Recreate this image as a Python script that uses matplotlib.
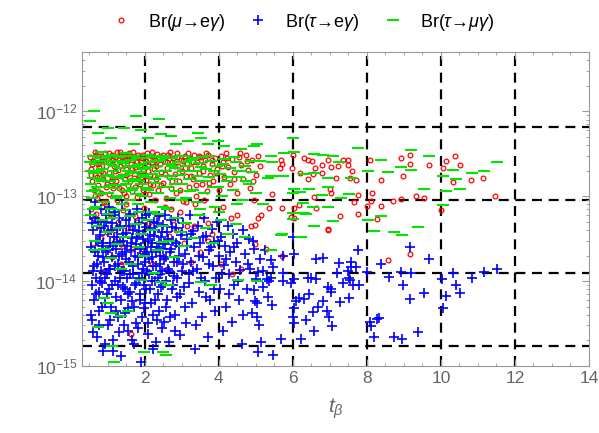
import numpy as np
import matplotlib
matplotlib.use("Agg")
import matplotlib.pyplot as plt
from matplotlib.ticker import MultipleLocator, FixedLocator, LogLocator, NullFormatter

plt.rcParams['font.family'] = ['Liberation Sans', 'DejaVu Sans']
plt.rcParams['mathtext.fontset'] = 'custom'
plt.rcParams['mathtext.rm'] = 'Liberation Sans'
plt.rcParams['mathtext.it'] = 'Liberation Sans:italic'

# (t_beta, Br * 1e15)
mu_e = [
    (0.52, 290), (0.55, 210), (0.57, 150), (0.60, 260), (0.62, 120), (0.65, 330), (0.66, 180), (0.70, 95),
    (0.72, 240), (0.74, 135), (0.78, 300), (0.80, 200), (0.82, 110), (0.85, 265), (0.87, 160), (0.90, 85),
    (0.92, 320), (0.95, 225), (0.97, 140), (1.00, 280), (1.02, 190), (1.04, 105), (1.07, 250), (1.10, 310),
    (1.12, 170), (1.15, 125), (1.17, 230), (1.20, 290), (1.22, 150), (1.25, 90), (1.27, 205), (1.30, 270),
    (1.33, 335), (1.35, 175), (1.38, 118), (1.40, 245), (1.43, 300), (1.45, 160), (1.48, 210), (1.50, 100),
    (1.53, 275), (1.55, 135), (1.58, 320), (1.60, 190), (1.63, 240), (1.66, 115), (1.68, 290), (1.70, 165),
    (1.73, 220), (1.76, 260), (1.78, 98), (1.80, 310), (1.83, 180), (1.86, 140), (1.88, 235), (1.91, 285),
    (1.94, 120), (1.96, 200), (1.99, 265), (2.02, 155), (2.05, 325), (2.07, 230), (2.10, 105), (2.13, 180),
    (2.16, 295), (2.18, 250), (2.21, 135), (2.24, 210),
    (0.55, 70), (0.62, 55), (0.75, 45), (0.85, 75), (0.98, 38), (1.05, 62), (1.20, 30), (1.28, 50),
    (1.42, 68), (1.55, 42), (1.65, 24), (1.72, 58), (1.85, 35), (1.98, 72), (2.10, 48), (0.60, 28),
    (1.10, 19), (1.35, 16), (0.90, 13), (1.62, 2.4), (2.20, 16), (2.45, 19), (2.60, 14),
    (2.27, 270), (2.30, 160), (2.33, 315), (2.36, 120), (2.40, 240), (2.43, 195), (2.46, 290), (2.50, 145),
    (2.53, 260), (2.56, 95), (2.60, 215), (2.63, 305), (2.66, 170), (2.70, 125), (2.73, 250), (2.76, 280),
    (2.80, 185), (2.83, 110), (2.86, 320), (2.90, 230), (2.93, 150), (2.97, 270), (3.00, 200), (3.04, 88),
    (3.07, 300), (3.10, 175), (3.14, 245), (3.18, 130), (3.22, 285), (3.25, 215), (3.29, 160), (3.33, 310),
    (3.37, 100), (3.41, 255), (3.45, 190), (3.50, 290), (3.54, 140), (3.58, 225), (3.62, 270), (3.67, 115),
    (3.71, 305), (3.76, 180), (3.80, 240), (3.85, 150), (3.90, 285), (3.95, 210), (4.00, 120),
    (2.35, 60), (2.55, 75), (2.75, 52), (2.95, 65), (3.15, 44), (3.35, 80), (3.55, 58), (3.80, 36),
    (3.95, 70), (2.65, 34), (3.05, 28), (3.50, 22), (4.05, 16), (4.35, 12), (4.60, 14),
    (3.32, 45), (3.70, 48), (4.86, 45), (5.05, 56), (4.32, 56),
    (4.05, 300), (4.10, 250), (4.15, 170), (4.20, 320), (4.25, 220), (4.30, 140), (4.36, 275), (4.42, 195),
    (4.48, 110), (4.55, 290), (4.60, 235), (4.65, 160), (4.72, 310), (4.78, 205), (4.84, 125), (4.90, 265),
    (4.95, 90), (5.00, 180), (5.05, 300), (5.10, 230), (5.15, 60),
    (0.53, 180), (0.58, 240), (0.64, 100), (0.68, 310), (0.71, 170), (0.76, 220), (0.83, 290), (0.88, 190),
    (0.94, 130), (0.99, 250), (1.03, 320), (1.08, 150), (1.13, 270), (1.19, 200), (1.24, 330), (1.29, 125),
    (1.34, 230), (1.39, 290), (1.44, 110), (1.49, 180), (1.54, 300), (1.59, 150), (1.64, 210), (1.69, 330),
    (1.74, 130), (1.79, 250), (1.84, 290), (1.89, 170), (1.95, 310), (2.00, 105), (2.04, 260), (2.09, 200),
    (2.14, 140), (2.19, 330), (2.25, 175), (2.31, 230), (2.37, 290), (2.44, 135), (2.49, 310), (2.55, 185),
    (2.61, 250), (2.68, 330), (2.74, 150), (2.81, 230), (2.88, 290), (2.95, 120), (3.02, 260), (3.09, 215),
    (3.16, 320), (3.24, 175), (3.31, 250), (3.39, 135), (3.47, 300), (3.56, 200), (3.64, 320), (3.73, 145),
    (3.82, 270), (3.92, 190), (4.08, 230), (4.22, 280), (4.40, 160), (4.58, 320), (4.75, 260), (4.93, 150),
    (0.68, 62), (0.95, 85), (1.18, 40), (1.48, 80), (1.78, 50), (2.28, 90), (2.70, 70), (3.10, 85),
    (3.60, 90), (4.10, 75), (4.50, 60), (0.80, 32), (1.40, 26), (2.00, 22), (2.85, 40), (3.25, 17), (3.70, 30),
    (5.68, 270), (5.70, 240), (5.65, 215), (5.43, 106), (5.35, 73), (5.70, 73), (6.00, 305), (5.97, 215),
    (6.19, 190), (6.30, 282), (6.41, 265), (6.51, 260), (6.59, 215), (6.78, 235), (6.78, 190), (6.95, 265),
    (7.03, 220), (7.00, 122), (7.03, 110), (6.41, 160), (6.54, 182), (6.62, 72), (6.57, 99), (7.16, 164),
    (7.22, 227), (7.35, 265), (7.49, 270), (7.54, 164), (7.59, 199), (7.49, 234), (7.65, 86), (7.76, 104),
    (7.70, 156), (7.27, 59), (6.95, 41), (7.76, 61), (6.16, 79), (6.03, 73), (6.03, 56), (5.95, 57),
    (8.00, 77), (8.11, 88), (8.14, 110), (8.38, 156), (8.38, 77), (8.27, 54), (8.08, 270), (8.70, 88),
    (8.92, 93), (8.97, 174), (8.92, 282), (9.16, 305), (9.16, 240), (9.32, 101), (9.54, 96), (9.68, 234),
    (10.00, 69), (10.05, 215), (10.14, 260), (10.38, 298), (10.51, 234), (10.32, 147), (10.81, 156),
    (11.14, 164), (11.46, 101),
    (4.97, 46), (6.95, 40), (5.27, 24), (4.97, 27), (5.70, 20), (8.57, 17.5), (9.16, 21),
]

tau_e = [
    (0.52, 60), (0.55, 25), (0.57, 9), (0.58, 3.5), (0.60, 40), (0.62, 15), (0.63, 6), (0.65, 85),
    (0.67, 30), (0.68, 11), (0.70, 2.2), (0.72, 50), (0.74, 20), (0.75, 7.5), (0.77, 4.5), (0.79, 35),
    (0.80, 13), (0.82, 70), (0.84, 26), (0.85, 9.5), (0.87, 1.5), (0.89, 45), (0.90, 17), (0.92, 5.5),
    (0.94, 60), (0.95, 22), (0.97, 12), (0.99, 3), (1.01, 38), (1.02, 8), (1.04, 75), (1.06, 28),
    (1.07, 14), (1.09, 5), (1.11, 48), (1.12, 19), (1.14, 2), (1.16, 33), (1.18, 10), (1.19, 65),
    (1.21, 24), (1.23, 6.5), (1.25, 42), (1.27, 16), (1.28, 3.8), (1.30, 55), (1.32, 11), (1.34, 29),
    (1.35, 1.3), (1.37, 80), (1.39, 21), (1.41, 8.5), (1.42, 36), (1.44, 13), (1.46, 4.2), (1.48, 52),
    (1.50, 18), (1.52, 26), (1.53, 7), (1.55, 2.6), (1.57, 44), (1.59, 12), (1.61, 62), (1.63, 23),
    (1.64, 5.8), (1.66, 32), (1.68, 15), (1.70, 1.8), (1.72, 47), (1.73, 9), (1.75, 27), (1.77, 3.2),
    (1.79, 70), (1.81, 19), (1.83, 11), (1.85, 39), (1.86, 6), (1.88, 24), (1.90, 1.1), (1.92, 55),
    (1.94, 14), (1.96, 31), (1.98, 4.8), (2.00, 17), (2.02, 43), (2.04, 8), (2.06, 22), (2.08, 2.4),
    (2.10, 63), (2.12, 12), (2.14, 35), (2.16, 5.5), (2.18, 19), (2.20, 28), (2.22, 1.6), (2.24, 50),
    (2.26, 10), (2.28, 40), (2.30, 15), (2.32, 3.5), (2.34, 25), (2.36, 7), (2.38, 58), (2.40, 20),
    (2.42, 12), (2.44, 33), (2.46, 2.8), (2.48, 46), (2.50, 9), (2.52, 18), (2.55, 27), (2.57, 5),
    (2.60, 38), (2.62, 14), (2.65, 1.9), (2.67, 22), (2.70, 52), (2.72, 8), (2.75, 30), (2.78, 11.5),
    (2.80, 4), (2.83, 42), (2.86, 17), (2.88, 6.5), (2.91, 26), (2.94, 2.3), (2.97, 35), (3.00, 13),
    (3.03, 48), (3.06, 8.5), (3.09, 21), (3.12, 3.2), (3.15, 31), (3.18, 12), (3.21, 60), (3.24, 17),
    (3.27, 5.5), (3.30, 39), (3.33, 25), (3.36, 1.6), (3.40, 14), (3.43, 44), (3.46, 7.5), (3.50, 28),
    (3.53, 3.8), (3.56, 19), (3.60, 55), (3.63, 10), (3.66, 34), (3.70, 2.2), (3.73, 23), (3.76, 6),
    (3.80, 41), (3.83, 15), (3.86, 29), (3.90, 4.5), (3.93, 11), (3.96, 50), (4.00, 20), (4.03, 8),
    (4.06, 33), (4.10, 2.6), (4.13, 15.5), (4.16, 26), (4.20, 5), (4.24, 44), (4.27, 12), (4.30, 22),
    (4.34, 3.3), (4.38, 36), (4.42, 9), (4.46, 17), (4.50, 28), (4.54, 6), (4.58, 13.5), (4.62, 1.8),
    (4.66, 40), (4.70, 21), (4.75, 8), (4.80, 31), (4.85, 14), (4.90, 4.2), (4.95, 24), (5.00, 10.5),
    (0.54, 4), (0.56, 48), (0.59, 13), (0.61, 2.5), (0.64, 22), (0.66, 55), (0.69, 7), (0.71, 16),
    (0.73, 30), (0.76, 3), (0.78, 10), (0.81, 42), (0.83, 5), (0.86, 19), (0.88, 28), (0.91, 1.8),
    (0.93, 11), (0.96, 50), (0.98, 7), (1.00, 23), (1.03, 14), (1.05, 3.5), (1.08, 40), (1.10, 9),
    (1.13, 26), (1.15, 1.5), (1.17, 60), (1.20, 15), (1.22, 4.5), (1.24, 33), (1.26, 9), (1.29, 20),
    (1.31, 2.5), (1.33, 45), (1.36, 6), (1.38, 13), (1.40, 30), (1.43, 3), (1.45, 22), (1.47, 8),
    (1.49, 37), (1.51, 11), (1.54, 4.8), (1.56, 17), (1.58, 58), (1.60, 7.5), (1.62, 28), (1.65, 2),
    (1.67, 12), (1.69, 40), (1.71, 5), (1.74, 20), (1.76, 9.5), (1.78, 33), (1.80, 2.8), (1.82, 16),
    (1.84, 48), (1.87, 7), (1.89, 25), (1.91, 12.5), (1.93, 3.8), (1.95, 36), (1.97, 9), (1.99, 21),
    (2.01, 5.5), (2.03, 60), (2.05, 13), (2.07, 30), (2.09, 3.2), (2.11, 18), (2.13, 8), (2.15, 42),
    (2.17, 25), (2.19, 10), (2.21, 4), (2.23, 15), (2.25, 34), (2.27, 6), (2.29, 22), (2.31, 1.9),
    (2.33, 48), (2.35, 11), (2.37, 28), (2.39, 4.5), (2.41, 16), (2.43, 8.5), (2.45, 38), (2.47, 13),
    (2.49, 24), (2.51, 3.3), (2.54, 60), (2.56, 10), (2.58, 19), (2.61, 6), (2.63, 31), (2.66, 13),
    (2.68, 3.8), (2.71, 24), (2.73, 43), (2.76, 9), (2.79, 17), (2.82, 2.6), (2.84, 28), (2.87, 11),
    (2.90, 55), (2.92, 20), (2.96, 7), (2.99, 38), (3.02, 16), (3.08, 5), (3.13, 26), (3.19, 9.5),
    (3.25, 36), (3.31, 13), (3.38, 3), (3.45, 20), (3.52, 11), (3.58, 33), (3.65, 6.5), (3.72, 16),
    (3.79, 25), (3.88, 8), (3.98, 30), (4.08, 12), (4.18, 18), (4.28, 7), (4.40, 25), (4.52, 10),
    (4.64, 4), (4.78, 16), (4.92, 30),
    (6.00, 33), (6.03, 21), (5.73, 19.5), (5.41, 17.5), (5.46, 14.5), (5.41, 11), (5.30, 10.6), (5.35, 10),
    (5.73, 12.5), (5.73, 10), (5.95, 9.4), (6.03, 10.6), (5.43, 5.3), (5.03, 3.75), (4.97, 5.8), (5.03, 5.5),
    (4.95, 7.8), (5.05, 12.7), (5.19, 13.3), (6.22, 2.1), (5.68, 2.1), (6.00, 3.75), (6.03, 3.2), (6.08, 5.9),
    (6.16, 6.4), (6.30, 6.1), (6.43, 7.0), (6.03, 4.8), (6.35, 3.5), (6.54, 4.3), (6.57, 2.6), (6.68, 5.0),
    (6.81, 5.9), (6.92, 4.5), (6.97, 3.75), (7.05, 2.95), (6.95, 8.6), (7.03, 8.0), (7.03, 7.4), (6.62, 18),
    (6.81, 18.5), (7.24, 16.5), (7.57, 17), (7.76, 23.5), (7.70, 14.5), (7.57, 14.5), (7.49, 13), (7.51, 10.8),
    (7.54, 10.2), (7.35, 9.4), (7.62, 9.1), (7.78, 9.1), (7.19, 12.3), (7.27, 5.6), (7.51, 6.4), (6.49, 10.8),
    (6.62, 10.6), (6.41, 11), (8.00, 12.7), (8.38, 15.7), (8.59, 11.3), (8.97, 8.9), (8.92, 12.7), (9.19, 12.3),
    (9.16, 25), (9.68, 18), (9.16, 6.1), (9.54, 7.2), (10.03, 10.6), (10.14, 6.6), (10.05, 4.8), (10.32, 12.3),
    (10.41, 9.1), (10.51, 7.2), (10.84, 11), (11.16, 12.7), (11.51, 14), (8.32, 3.7), (8.27, 3.6), (8.08, 3.3),
    (8.11, 2.95), (8.19, 2.2), (8.73, 2.2), (8.95, 2.1), (9.38, 2.5), (5.05, 1.46), (5.46, 1.35),
    (5.10, 18), (5.20, 8.5), (5.25, 23), (5.08, 3), (5.32, 6.5), (5.15, 1.9),
]

tau_mu = [
    (0.62, 1000), (0.51, 765), (1.76, 870), (2.38, 815), (1.00, 640), (1.43, 640), (0.73, 550), (0.78, 420),
    (1.08, 480), (1.89, 610), (2.08, 490), (2.43, 540), (2.70, 510), (2.84, 410), (1.70, 410), (3.43, 550),
    (3.51, 490), (3.97, 446), (4.14, 390), (3.70, 410), (3.16, 446), (4.59, 360), (4.95, 390), (5.03, 410),
    (6.00, 490), (5.76, 320), (6.03, 330),
    (0.52, 250), (0.55, 140), (0.58, 95), (0.60, 300), (0.63, 190), (0.66, 120), (0.69, 75), (0.72, 260),
    (0.75, 160), (0.78, 105), (0.81, 330), (0.84, 210), (0.87, 130), (0.90, 85), (0.93, 280), (0.96, 175),
    (0.99, 110), (1.02, 240), (1.05, 150), (1.08, 70), (1.11, 310), (1.14, 200), (1.17, 125), (1.20, 260),
    (1.23, 95), (1.26, 165), (1.29, 290), (1.32, 215), (1.35, 135), (1.38, 80), (1.41, 245), (1.44, 180),
    (1.47, 115), (1.50, 320), (1.53, 150), (1.56, 225), (1.59, 90), (1.62, 270), (1.65, 190), (1.68, 125),
    (1.71, 300), (1.74, 160), (1.77, 105), (1.80, 235), (1.83, 65), (1.86, 195), (1.89, 140), (1.92, 280),
    (1.95, 100), (1.98, 210), (2.01, 170), (2.05, 310), (2.08, 120), (2.12, 250), (2.16, 85), (2.20, 185),
    (2.24, 290), (2.28, 145), (2.32, 225), (2.36, 110), (2.40, 265), (2.44, 175), (2.48, 75), (2.52, 300),
    (2.56, 200), (2.60, 130), (2.64, 240), (2.68, 95), (2.72, 280), (2.76, 160), (2.80, 215), (2.85, 115),
    (2.90, 255), (2.95, 180), (3.00, 140), (3.05, 300), (3.10, 95), (3.15, 225), (3.20, 160), (3.25, 270),
    (3.30, 120), (3.35, 200), (3.40, 85), (3.45, 245), (3.50, 150), (3.55, 290), (3.60, 110), (3.66, 210),
    (3.72, 170), (3.78, 260), (3.84, 130), (3.90, 75), (3.96, 230), (4.02, 185), (4.08, 100), (4.15, 275),
    (4.22, 150), (4.30, 215), (4.38, 120), (4.46, 250), (4.54, 170), (4.62, 90), (4.70, 230), (4.80, 140),
    (4.90, 195), (5.00, 110), (5.10, 260), (5.20, 80),
    (0.54, 200), (0.57, 115), (0.61, 165), (0.65, 240), (0.70, 130), (0.74, 200), (0.79, 280), (0.83, 150),
    (0.88, 240), (0.92, 110), (0.97, 300), (1.01, 180), (1.06, 260), (1.10, 135), (1.16, 230), (1.21, 170),
    (1.27, 100), (1.32, 300), (1.37, 175), (1.43, 260), (1.48, 140), (1.54, 200), (1.60, 300), (1.66, 120),
    (1.72, 220), (1.78, 280), (1.84, 150), (1.90, 240), (1.96, 180), (2.02, 125), (2.10, 220), (2.18, 300),
    (2.26, 160), (2.34, 260), (2.42, 200), (2.50, 130), (2.58, 280), (2.66, 175), (2.74, 230), (2.82, 140),
    (2.92, 300), (3.02, 200), (3.12, 250), (3.22, 115), (3.32, 280), (3.42, 175), (3.52, 220), (3.62, 150),
    (3.74, 300), (3.86, 200), (3.98, 130), (4.12, 240), (4.26, 170), (4.40, 290), (4.56, 200), (4.72, 150),
    (4.88, 260), (0.60, 70), (1.00, 62), (1.40, 68), (1.80, 80), (2.20, 65), (2.60, 70), (3.00, 90),
    (3.50, 70), (4.00, 65), (4.50, 80),
    (7.76, 370), (8.38, 265), (8.03, 199), (8.57, 192), (8.92, 220), (9.19, 350), (9.19, 205), (9.68, 300),
    (9.54, 123), (10.05, 174), (10.14, 116), (10.32, 205), (10.51, 123), (10.41, 160), (10.84, 186),
    (11.16, 199), (11.51, 250), (10.05, 79), (8.03, 53), (8.19, 39), (8.73, 38), (8.95, 35), (9.38, 43),
    (8.38, 59), (7.51, 107), (7.30, 96), (6.95, 75), (7.08, 51.5), (6.57, 45), (6.35, 61), (6.54, 75),
    (6.95, 130), (6.78, 104), (6.43, 122), (6.00, 110), (6.19, 112), (6.27, 84), (6.30, 64), (6.00, 64),
    (6.00, 54), (5.68, 35), (6.22, 33), (6.57, 190), (6.95, 165), (6.03, 122), (7.57, 165), (7.24, 255),
    (7.08, 297), (6.81, 305), (6.57, 315), (6.30, 182), (5.73, 174), (5.41, 174), (5.32, 166), (5.41, 297),
    (5.43, 255), (5.41, 23), (5.03, 10), (5.70, 36),
    (0.62, 23), (0.89, 24), (1.08, 18.5), (1.35, 14), (1.62, 16), (1.97, 20), (2.35, 23), (2.78, 19),
    (2.24, 12.3), (2.43, 9.7), (2.62, 8.9), (0.89, 6.4), (1.00, 5.5), (0.73, 2.9), (1.08, 4.2), (1.35, 3.9),
    (1.54, 4.5), (1.89, 10.2), (3.78, 8.9), (3.51, 9.7), (4.51, 10.2), (1.97, 1.46), (2.49, 1.46),
    (1.11, 1.7), (1.16, 1.1), (2.57, 1.35),
    (0.55, 60), (0.70, 45), (0.85, 52), (1.00, 38), (1.15, 55), (1.30, 42), (1.45, 33), (1.60, 58),
    (1.75, 47), (1.90, 36), (2.05, 52), (2.20, 40), (2.35, 62), (2.50, 44), (2.65, 30), (2.80, 55),
    (2.95, 38), (3.10, 48), (3.30, 32), (3.45, 60), (3.65, 42), (3.85, 28), (4.05, 52), (4.25, 36),
    (4.45, 47), (4.70, 33), (0.65, 30), (1.25, 27), (1.85, 25), (2.45, 29), (3.05, 26),
]

grid_x = [2, 4, 6, 8, 10, 12]
grid_y = [6.5e-13, 9.1e-14, 1.26e-14, 1.7e-15]
y_ticks = [1e-15, 1e-14, 1e-13, 1e-12]

labels = ['Br($\\mathit{\\mu}$\u2192e$\\mathit{\\gamma}$)',
          'Br($\\mathit{\\tau}$\u2192e$\\mathit{\\gamma}$)',
          'Br($\\mathit{\\tau}$\u2192$\\mathit{\\mu\\gamma}$)']

mu_e = np.array(mu_e)
tau_e = np.array(tau_e)
tau_mu = np.array(tau_mu)
scale = 1e-15

fig = plt.figure(figsize=(5.99, 4.33), dpi=100)
ax = fig.add_axes([82 / 599, 1 - 366 / 433, (589 - 82) / 599, (366 - 52) / 433])

for gx in grid_x:
    ax.axvline(gx, color='black', lw=1.6, ls=(0, (4.5, 3)), zorder=1)
for gy in grid_y:
    ax.axhline(gy, color='black', lw=1.6, ls=(0, (4.5, 3)), zorder=1)

ax.plot(mu_e[:, 0], mu_e[:, 1] * scale, 'o', mfc='none', mec='red', ms=3.4, mew=0.9,
        ls='none', label=labels[0], zorder=3)
ax.plot(tau_e[:, 0], tau_e[:, 1] * scale, '+', color='blue', ms=7, mew=1.2,
        ls='none', label=labels[1], zorder=4)
ax.plot(tau_mu[:, 0], tau_mu[:, 1] * scale, '_', color='#00e600', ms=8, mew=1.5,
        ls='none', label=labels[2], zorder=5)

ax.set_yscale('log')
ax.set_xlim(0.3, 14)
ax.set_ylim(1e-15, 5e-12)

frame = '#999999'
for s in ax.spines.values():
    s.set_color(frame)
ax.xaxis.set_major_locator(MultipleLocator(2))
ax.xaxis.set_minor_locator(MultipleLocator(0.5))
ax.yaxis.set_major_locator(FixedLocator(y_ticks))
ax.yaxis.set_minor_locator(LogLocator(base=10, subs=np.arange(2, 10), numticks=10))
ax.yaxis.set_minor_formatter(NullFormatter())
ax.tick_params(which='both', direction='in', top=True, right=True, color=frame,
               labelcolor='#666666', labelsize=12.5)
ax.tick_params(which='major', length=5)
ax.tick_params(which='minor', length=2.5)
ax.set_xlabel(r'$t_\beta$', color='#666666', fontsize=15, labelpad=8)

fig.legend(loc='center', bbox_to_anchor=(0.506, 0.949), ncol=3, frameon=False,
           fontsize=13, handlelength=1.0, handletextpad=1.0, columnspacing=1.3)

fig.savefig('out.png', dpi=100)
